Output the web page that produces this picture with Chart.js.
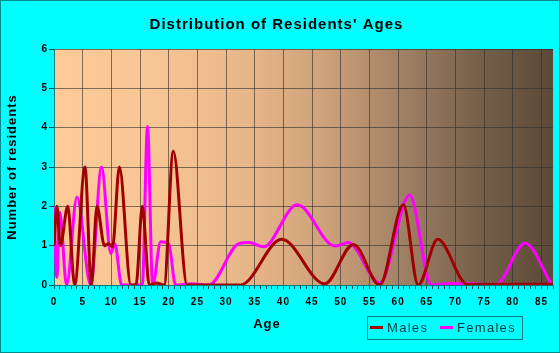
<!DOCTYPE html>
<html>
<head>
<meta charset="utf-8">
<title>Distribution of Residents' Ages</title>
<script src="https://cdn.jsdelivr.net/npm/chart.js"></script>
<style>
  html, body { margin: 0; padding: 0; background: #00ffff; }
  #wrap { width: 560px; height: 353px; position: relative; }
</style>
</head>
<body>
<div id="wrap"><canvas id="chart"></canvas></div>
<script>
// Valores (edad -> numero de residentes)
const maleAges   = [0, 0.5, 1.1, 2.4, 3.6, 5.4, 6.5, 7.5, 8.8, 9.5, 10.2, 11.4, 13.4, 14.3, 15.4, 16.6, 17.8, 19.2, 20.8, 23.2, 32.5, 39.7, 47.2, 52.2, 56.8, 60.9, 63.5, 66.9, 72.1, 87];
const maleCounts = [1, 2, 1, 2, 0, 3, 0, 2, 1, 1.05, 0.97, 3, 0, 0, 2, 0, 0.05, 0, 3.4, 0, 0, 1.16, 0.03, 1.03, 0, 2.04, 0, 1.16, 0.01, 0.02];

const femaleAges   = [0, 0.5, 1.0, 2.2, 4.0, 6.4, 8.3, 9.9, 10.6, 11.8, 15.4, 16.3, 17.2, 18.6, 20.0, 21.2, 24, 27, 32.2, 34, 36.5, 42.4, 49.0, 51.3, 56.8, 62.0, 65.8, 69, 72, 77, 82.1, 86.8];
const femaleCounts = [2, 0.2, 1.85, 0, 2.24, 0, 3, 0.8, 1.05, 0, 0, 4.03, 0, 1.1, 1.05, 0, 0.03, 0, 1.05, 1.08, 0.97, 2.04, 0.99, 1.08, 0.05, 2.29, 0, 0.04, 0.04, 0, 1.06, 0];

const yTicks = [0, 1, 2, 3, 4, 5, 6];

const toPoints = (xs, ys) => xs.map((x, i) => ({ x: x, y: ys[i] }));

// Fondo degradado del area de trazado, marco y leyenda
const decoracion = {
  id: 'decoracion',
  beforeDraw(chart) {
    const ctx = chart.ctx;
    ctx.letterSpacing = '1px';
    const a = chart.chartArea;
    const g = ctx.createLinearGradient(a.left, 0, a.right, 0);
    g.addColorStop(0, '#fdca98');
    g.addColorStop(0.2, '#f8c694');
    g.addColorStop(0.4, '#e6b588');
    g.addColorStop(0.55, '#cca079');
    g.addColorStop(0.7, '#a08064');
    g.addColorStop(0.85, '#76604a');
    g.addColorStop(1, '#5c4937');
    ctx.save();
    ctx.fillStyle = g;
    ctx.fillRect(a.left, a.top, a.right - a.left, a.bottom - a.top);
    ctx.restore();
  },
  afterDraw(chart) {
    const ctx = chart.ctx;
    ctx.save();
    ctx.letterSpacing = '1px';
    // titulo del eje x
    ctx.fillStyle = '#000';
    ctx.font = 'bold 13px Arial, "Liberation Sans", sans-serif';
    ctx.textAlign = 'center';
    ctx.textBaseline = 'middle';
    ctx.fillText('Age', 267, 324);

    // leyenda
    ctx.strokeStyle = '#008080';
    ctx.lineWidth = 1;
    ctx.strokeRect(367.5, 316.5, 155, 23);
    ctx.font = '13px Arial, "Liberation Sans", sans-serif';
    ctx.letterSpacing = '1.3px';
    ctx.textAlign = 'left';
    const pos = [370, 440];
    chart.data.datasets.forEach((ds, i) => {
      ctx.strokeStyle = ds.borderColor;
      ctx.lineWidth = 3;
      ctx.beginPath();
      ctx.moveTo(pos[i], 327.5);
      ctx.lineTo(pos[i] + 13, 327.5);
      ctx.stroke();
      ctx.fillStyle = '#003c3c';
      ctx.fillText(ds.label, pos[i] + 17, 328);
    });

    // marco exterior
    ctx.strokeStyle = '#008c8c';
    ctx.lineWidth = 1;
    ctx.strokeRect(0.5, 0.5, chart.width - 1, chart.height - 1);
    ctx.restore();
  }
};

new Chart(document.getElementById('chart').getContext('2d'), {
  type: 'line',
  data: {
    datasets: [
      {
        label: 'Males',
        data: toPoints(maleAges, maleCounts),
        borderColor: '#a00000',
        borderWidth: 3,
        pointRadius: 0,
        cubicInterpolationMode: 'monotone',
        fill: false
      },
      {
        label: 'Females',
        data: toPoints(femaleAges, femaleCounts),
        borderColor: '#ff00ff',
        borderWidth: 3,
        pointRadius: 0,
        cubicInterpolationMode: 'monotone',
        fill: false
      }
    ]
  },
  options: {
    responsive: true,
    maintainAspectRatio: false,
    animation: false,
    layout: { padding: { right: 7, left: 0, top: 0, bottom: 0 } },
    plugins: {
      legend: { display: false },
      tooltip: { enabled: false },
      title: {
        display: true,
        text: "Distribution of Residents' Ages",
        color: '#000',
        font: { family: 'Arial, "Liberation Sans", sans-serif', size: 15, weight: 'bold' },
        padding: { top: 16, bottom: 15 }
      }
    },
    scales: {
      x: {
        type: 'linear',
        min: 0,
        max: 87,
        afterFit: s => { s.height = 68; },
        border: { color: '#007b7b', width: 1 },
        grid: {
          color: c => (c.tick && c.tick.value % 5 === 0 && c.tick.value > 0) ? 'rgba(45,45,45,0.6)' : 'transparent',
          tickColor: '#0a4f4f',
          tickLength: 4
        },
        ticks: {
          stepSize: 1,
          autoSkip: false,
          maxRotation: 0,
          padding: 7,
          color: '#000',
          font: { family: 'Arial, "Liberation Sans", sans-serif', size: 10, weight: 'bold' },
          callback: v => (v % 5 === 0 ? String(v) : '')
        },
        title: { display: false, text: 'Age' }
      },
      y: {
        min: 0,
        max: 6,
        afterFit: s => { s.width = 54; },
        afterBuildTicks: s => { s.ticks = yTicks.map(v => ({ value: v })); },
        border: { color: '#007b7b', width: 1 },
        grid: {
          color: c => (c.tick && c.tick.value > 0) ? 'rgba(45,45,45,0.6)' : 'transparent',
          tickColor: '#0a4f4f',
          tickLength: 5
        },
        ticks: {
          stepSize: 1,
          padding: 1,
          color: '#000',
          font: { family: 'Arial, "Liberation Sans", sans-serif', size: 10, weight: 'bold' }
        },
        title: {
          display: true,
          text: 'Number of residents',
          color: '#000',
          font: { family: 'Arial, "Liberation Sans", sans-serif', size: 13, weight: 'bold' },
          padding: { top: 5, bottom: 0 }
        }
      }
    }
  },
  plugins: [decoracion]
});
</script>
</body>
</html>
